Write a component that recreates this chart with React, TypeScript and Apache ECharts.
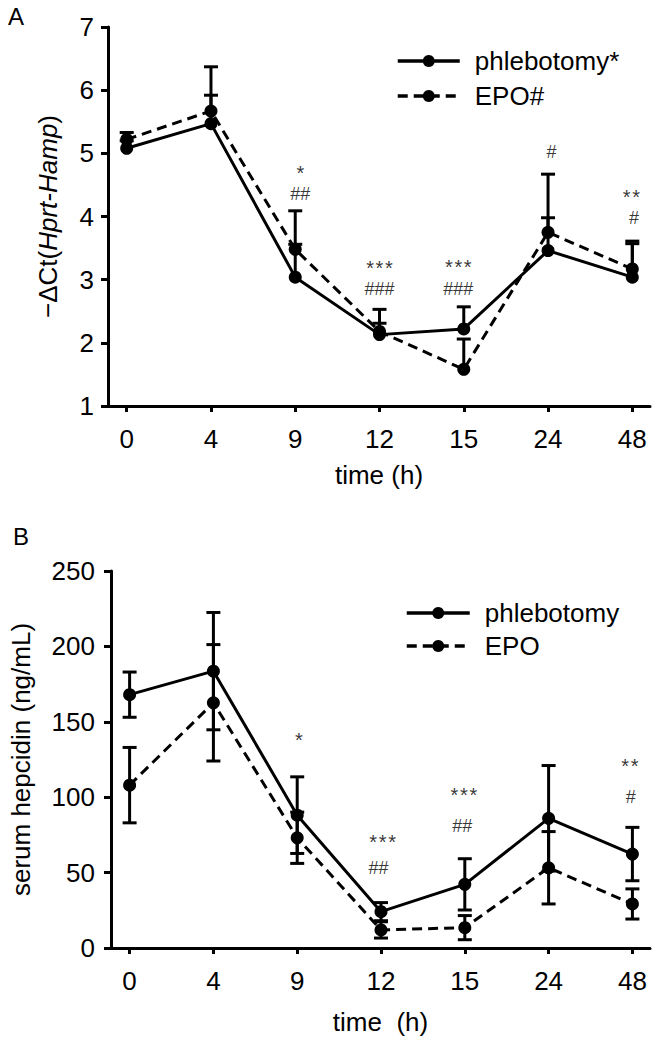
import React, { useEffect, useRef } from "react";
import * as echarts from "echarts";

const FONT = "'Liberation Sans', Arial, Helvetica, sans-serif";

// categories (time points, equally spaced on the axis)
const times = ["0", "4", "9", "12", "15", "24", "48"];

// Panel A: −ΔCt(Hprt-Hamp), one-sided (upper) error bars
const phlebA = [5.08, 5.47, 3.04, 2.13, 2.22, 3.46, 3.04];
const phlebAErr = [0.12, 0.45, 1.05, 0.4, 0.35, 0.52, 0.53];
const epoA = [5.22, 5.67, 3.48, 2.18, 1.58, 3.75, 3.17];
const epoAErr = [0.11, 0.7, 0.08, 0.13, 0.48, 0.92, 0.44];

// Panel B: serum hepcidin (ng/mL), two-sided error bars
const phlebB = [168, 183.6, 88.1, 24.1, 42.2, 86, 62.3];
const phlebBErr = [15, 38.9, 25.4, 6, 17, 35, 17.7];
const epoB = [108, 162.6, 73.1, 12, 13.5, 53.2, 29.2];
const epoBErr = [25, 38.6, 17, 5.4, 8, 24, 10];

// significance marks: [category position, value, text]
const annotA: [number, number, string][] = [
  [2.06, 4.76, "*"],
  [2.06, 4.35, "##"],
  [3, 3.26, "***"],
  [3, 2.85, "###"],
  [3.935, 3.27, "***"],
  [3.935, 2.85, "###"],
  [5.04, 5.02, "#"],
  [5.99, 4.39, "**"],
  [6.02, 3.98, "#"],
];
const annotB: [number, number, string][] = [
  [2.02, 141, "*"],
  [3.02, 73.8, "***"],
  [2.97, 53, "##"],
  [3.99, 104.7, "***"],
  [3.97, 80.8, "##"],
  [5.97, 124, "**"],
  [5.98, 100, "#"],
];

const tickIdx = times.map((_, i) => i);

function errorRender(twoSided: boolean) {
  return (params: any, api: any) => {
    const x = api.value(0);
    const m = api.value(1);
    const e = api.value(2);
    const top = api.coord([x, m + e]);
    const bot = api.coord([x, twoSided ? m - e : m]);
    const hw = 7;
    const style = { stroke: "#000", lineWidth: 3 };
    const children: any[] = [
      { type: "line", shape: { x1: top[0], y1: top[1], x2: bot[0], y2: bot[1] }, style },
      { type: "line", shape: { x1: top[0] - hw, y1: top[1], x2: top[0] + hw, y2: top[1] }, style },
    ];
    if (twoSided) {
      children.push({
        type: "line",
        shape: { x1: bot[0] - hw, y1: bot[1], x2: bot[0] + hw, y2: bot[1] },
        style,
      });
    }
    return { type: "group", children };
  };
}

function errSeries(gi: number, vals: number[], errs: number[], two: boolean) {
  return {
    type: "custom",
    xAxisIndex: gi,
    yAxisIndex: gi,
    renderItem: errorRender(two),
    data: vals.map((v, i) => [i, v, errs[i]]),
    encode: { x: 0, y: 1 },
    silent: true,
    z: 2,
  };
}

function lineSeries(gi: number, name: string, vals: number[], dashed: boolean) {
  return {
    type: "line",
    name,
    xAxisIndex: gi,
    yAxisIndex: gi,
    data: vals.map((v, i) => [i, v]),
    symbol: "circle",
    symbolSize: 13,
    showSymbol: true,
    lineStyle: { color: "#000", width: 3, type: dashed ? [10, 6] : "solid" },
    itemStyle: { color: "#000" },
    z: 3,
  };
}

const STAR_SIZE = 20;
const HASH_SIZE = 18;

function annotSeries(gi: number, list: [number, number, string][]) {
  return {
    type: "scatter",
    xAxisIndex: gi,
    yAxisIndex: gi,
    symbolSize: 1,
    itemStyle: { color: "rgba(0,0,0,0)" },
    silent: true,
    z: 4,
    data: list.map(([x, y, t]) => {
      const star = t.indexOf("*") >= 0;
      return {
        value: [x, y],
        name: star ? t.split("").join("\u200a") : t,
        label: {
          show: true,
          position: "inside",
          formatter: "{b}",
          fontSize: star ? STAR_SIZE : HASH_SIZE,
          // the asterisk's ink sits high in its line: lower it onto the value
          offset: [0, star ? STAR_SIZE * 0.24 : 0],
          color: "#000",
          fontFamily: FONT,
        },
      };
    }),
  };
}

const txt = { color: "#000", fontFamily: FONT, fontSize: 26 };

function xAxisCfg(gi: number, name: string, nameGap: number) {
  return {
    gridIndex: gi,
    type: "value",
    min: -0.222,
    max: 6.21,
    axisLine: { show: true, onZero: false, lineStyle: { color: "#000", width: 3 } },
    axisTick: { show: true, customValues: tickIdx, length: 6, lineStyle: { color: "#000", width: 3 } },
    axisLabel: {
      show: true,
      customValues: tickIdx,
      formatter: (v: number) => times[Math.round(v)],
      margin: 20,
      ...txt,
    },
    splitLine: { show: false },
    name,
    nameLocation: "middle",
    nameGap,
    nameTextStyle: { ...txt },
  };
}

function yAxisCfg(gi: number, min: number, max: number, interval: number, name: string, nameGap: number, margin: number) {
  return {
    gridIndex: gi,
    type: "value",
    min,
    max,
    interval,
    axisLine: { show: true, onZero: false, lineStyle: { color: "#000", width: 3 } },
    axisTick: { show: true, length: 7, lineStyle: { color: "#000", width: 3 } },
    axisLabel: { margin, ...txt },
    splitLine: { show: false },
    name,
    nameLocation: "middle",
    nameGap,
    nameTextStyle: {
      ...txt,
      rich: { i: { ...txt, fontStyle: "italic" } },
    },
  };
}

const GA = { left: 108, top: 27, width: 542, height: 379 };
const GB = { left: 109, top: 571, width: 541, height: 377 };

export default function App() {
  const ref = useRef<HTMLDivElement>(null);
  useEffect(() => {
    if (!ref.current) return;
    const chart = echarts.init(ref.current, undefined, { renderer: "svg" });
    chart.setOption({
      animation: false,
      backgroundColor: "#fff",
      title: [
        {
          text: "A",
          left: 8,
          top: 4,
          padding: 0,
          textStyle: { color: "#000", fontFamily: FONT, fontSize: 24, fontWeight: "normal" },
        },
        {
          text: "B",
          left: 13,
          top: 524,
          padding: 0,
          textStyle: { color: "#000", fontFamily: FONT, fontSize: 24, fontWeight: "normal" },
        },
      ],
      grid: [GA, GB],
      xAxis: [xAxisCfg(0, "time (h)", 56), xAxisCfg(1, "time  (h)", 61)],
      yAxis: [
        yAxisCfg(0, 1, 7, 1, "\u2212\u0394Ct({i|Hprt-Hamp})", 47, 14),
        yAxisCfg(1, 0, 250, 50, "serum hepcidin (ng/mL)", 77, 16),
      ],
      legend: [
        {
          data: ["phlebotomy*", "EPO#"],
          orient: "vertical",
          left: 396,
          top: 48,
          itemWidth: 62,
          itemHeight: 15,
          itemGap: 9,
          padding: 0,
          lineStyle: { width: 3.5 },
          textStyle: { ...txt, padding: [0, 0, 0, 10] },
        },
        {
          data: ["phlebotomy", "EPO"],
          orient: "vertical",
          left: 405,
          top: 600,
          itemWidth: 63,
          itemHeight: 15,
          itemGap: 7,
          padding: 0,
          lineStyle: { width: 3.5 },
          textStyle: { ...txt, padding: [0, 0, 0, 10] },
        },
      ],
      series: [
        errSeries(0, phlebA, phlebAErr, false),
        errSeries(0, epoA, epoAErr, false),
        lineSeries(0, "phlebotomy*", phlebA, false),
        lineSeries(0, "EPO#", epoA, true),
        annotSeries(0, annotA),
        errSeries(1, phlebB, phlebBErr, true),
        errSeries(1, epoB, epoBErr, true),
        lineSeries(1, "phlebotomy", phlebB, false),
        lineSeries(1, "EPO", epoB, true),
        annotSeries(1, annotB),
      ],
    });
    return () => chart.dispose();
  }, []);
  return (
    <div
      ref={ref}
      style={{ position: "fixed", left: 0, top: 0, width: 658, height: 1050, background: "#fff" }}
    />
  );
}
